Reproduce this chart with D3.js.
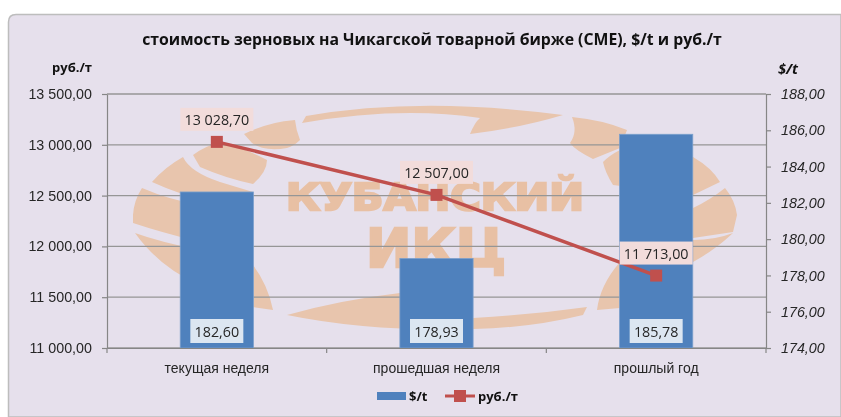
<!DOCTYPE html>
<html>
<head>
<meta charset="utf-8">
<script src="https://cdn.jsdelivr.net/npm/d3@7"></script>
<style>
  html, body { margin: 0; padding: 0; background: #fff; }
  svg { display: block; font-family: "Open Sans", sans-serif; filter: blur(0.35px); }
  text { fill: #262626; }
</style>
</head>
<body>
<svg id="chart" width="841" height="417"></svg>
<script>
let categories = ["текущая неделя", "прошедшая неделя", "прошлый год"]
let usd_values = [182.60, 178.93, 185.78]
let rub_values = [13028.70, 12507.00, 11713.00]
let rub_ticks = [11000, 11500, 12000, 12500, 13000, 13500]
let usd_ticks = [174, 176, 178, 180, 182, 184, 186, 188]

let title_text = "стоимость зерновых на Чикагской товарной бирже (CME), $/t и руб./т"

// watermark shapes behind the plot, traced by hand
let logo_shapes = [
  "M244,134 Q268,122 295,120 Q296,130 300,140 Q294,146 287,148 Q265,152 252,143 Z",
  "M193,155 Q205,146 220,142 Q245,148 267,160 Q267,172 253,184 Q225,178 200,167 Z",
  "M152,182 Q165,167 183,157 Q190,172 220,182 L253,192 L220,205 Q180,195 152,182 Z",
  "M133,215 Q134,200 142,188 Q170,200 200,205 L200,242 Q160,232 133,223 Z",
  "M135,233 Q160,242 200,250 L253,265 Q268,285 273,310 L252,307 Q235,290 200,285 Q160,268 135,233 Z",
  "M287,315 Q340,300 400,293 L473,318 Q530,315 587,307 L583,315 Q530,328 473,329 Q370,332 287,315 Z",
  "M302,123 L306,116 Q420,96 563,115 Q520,128 470,134 Q475,122 480,118 Q400,106 302,123 Z",
  "M572,117 Q603,120 627,130 L620,148 L593,159 Q575,150 570,143 Q578,132 572,117 Z",
  "M603,162 Q610,155 620,150 L693,157 Q712,168 720,182 L693,195 L613,185 Q605,172 603,162 Z",
  "M725,188 Q735,200 737,215 L733,232 L693,238 L693,208 Q710,200 725,188 Z",
  "M733,233 Q715,250 693,262 L620,308 L597,310 Q600,285 620,262 L693,240 Q715,240 733,233 Z"
]

let svg = d3.select("#chart")
let plot = { left: 107, right: 766, top: 94, bottom: 348 }

let num_format = d3.formatLocale({ decimal: ",", thousands: " ", grouping: [3] }).format(",.2f")

let x = d3.scaleBand().domain(categories).range([plot.left, plot.right]).paddingInner(2 / 3).paddingOuter(1 / 3)
let y_rub = d3.scaleLinear().domain([11000, 13500]).range([plot.bottom, plot.top])
let y_usd = d3.scaleLinear().domain([174, 188]).range([plot.bottom, plot.top])

// panel
svg.append("path")
  .attr("d", "M8.5,417 L8.5,22 Q8.5,14.5 16,14.5 L841,14.5 L841,417 Z")
  .attr("fill", "#e6e0ec")
  .attr("stroke", "#bdbdbd")
  .attr("stroke-width", 1.5)

// watermark
let logo = svg.append("g")
logo.selectAll("path").data(logo_shapes).enter().append("path")
  .attr("d", d => d)
  .attr("fill", "#e8c5ad")
logo.append("text").text("КУБАНСКИЙ")
  .attr("x", 286).attr("y", 210)
  .attr("textLength", 298).attr("lengthAdjust", "spacingAndGlyphs")
  .style("font-family", "DejaVu Sans").style("font-weight", "bold").style("font-size", "38px")
  .style("fill", "#e8c0a4").style("stroke", "#e8c0a4").style("stroke-width", 2.5)
logo.append("text").text("ИКЦ")
  .attr("x", 366).attr("y", 267)
  .attr("textLength", 140).attr("lengthAdjust", "spacingAndGlyphs")
  .style("font-family", "DejaVu Sans").style("font-weight", "bold").style("font-size", "53px")
  .style("fill", "#e8c0a4").style("stroke", "#e8c0a4").style("stroke-width", 2.5)

// gridlines
svg.append("g").selectAll("line").data(rub_ticks).enter().append("line")
  .attr("x1", plot.left).attr("x2", plot.right)
  .attr("y1", d => y_rub(d)).attr("y2", d => y_rub(d))
  .attr("stroke", "#969696")
  .attr("stroke-width", 1.3)

// bars
svg.append("g").selectAll("rect").data(categories).enter().append("rect")
  .attr("x", d => x(d))
  .attr("width", x.bandwidth())
  .attr("y", (d, i) => y_usd(usd_values[i]))
  .attr("height", (d, i) => plot.bottom - y_usd(usd_values[i]))
  .attr("fill", "#4f81bd")
  .attr("stroke", "#7a9fcc")
  .attr("stroke-width", 0.8)

// axes
function style_axis(g, italic) {
  g.select(".domain").attr("stroke", "#868686").attr("stroke-width", 1.2)
  g.selectAll(".tick line").attr("stroke", "#868686").attr("stroke-width", 1.2)
  g.selectAll(".tick text")
    .style("font-size", "14.3px")
    .style("font-style", italic ? "italic" : "normal")
    .style("fill", "#262626")
}

svg.append("g")
  .attr("transform", `translate(${plot.left},0)`)
  .call(d3.axisLeft(y_rub).tickValues(rub_ticks).tickSize(5).tickPadding(10).tickSizeOuter(0).tickFormat(num_format))
  .call(g => style_axis(g, false))

svg.append("g")
  .attr("transform", `translate(${plot.right},0)`)
  .call(d3.axisRight(y_usd).tickValues(usd_ticks).tickSize(5).tickPadding(10).tickSizeOuter(0).tickFormat(num_format))
  .call(g => style_axis(g, true))

let bottom_axis = svg.append("g")
  .attr("transform", `translate(0,${plot.bottom})`)
  .call(d3.axisBottom(x).tickSize(0).tickPadding(15))
  .call(g => style_axis(g, false))
bottom_axis.selectAll(".tick text").style("font-size", "14px")

// category dividers on the bottom axis
bottom_axis.selectAll(".divider").data(d3.range(categories.length + 1)).enter().append("line")
  .attr("class", "divider")
  .attr("x1", d => plot.left + d * x.step()).attr("x2", d => plot.left + d * x.step())
  .attr("y1", 0).attr("y2", 5)
  .attr("stroke", "#868686").attr("stroke-width", 1.2)

// rub line
let line = d3.line().x((d, i) => x(categories[i]) + x.bandwidth() / 2).y(d => y_rub(d))
svg.append("path").datum(rub_values)
  .attr("d", line)
  .attr("fill", "none")
  .attr("stroke", "#c0504d")
  .attr("stroke-width", 3.5)

svg.append("g").selectAll("rect").data(rub_values).enter().append("rect")
  .attr("x", (d, i) => x(categories[i]) + x.bandwidth() / 2 - 6)
  .attr("y", d => y_rub(d) - 6)
  .attr("width", 12).attr("height", 12)
  .attr("fill", "#c0504d")

// value labels
function value_label(cx, cy, str, w, h, bg) {
  svg.append("rect")
    .attr("x", cx - w / 2).attr("y", cy - h / 2)
    .attr("width", w).attr("height", h)
    .attr("fill", bg)
  svg.append("text").text(str)
    .attr("x", cx).attr("y", cy)
    .attr("text-anchor", "middle").attr("dominant-baseline", "central")
    .style("font-size", "14.3px")
}

categories.forEach((c, i) => {
  let cx = x(c) + x.bandwidth() / 2
  value_label(cx, y_rub(rub_values[i]) - 22.5, num_format(rub_values[i]), 73, 23, "#f2dcdb")
  value_label(cx, 331, num_format(usd_values[i]), 53, 24, "#dce6f1")
})

// titles
svg.append("text").text(title_text)
  .attr("x", 432).attr("y", 39)
  .attr("text-anchor", "middle").attr("dominant-baseline", "central")
  .style("font-size", "15.8px").style("font-weight", "bold").style("fill", "#111")

svg.append("text").text("руб./т")
  .attr("x", 92).attr("y", 67)
  .attr("text-anchor", "end").attr("dominant-baseline", "central")
  .style("font-size", "13px").style("font-weight", "bold").style("fill", "#111")

svg.append("text").text("$/t")
  .attr("x", 778).attr("y", 68)
  .attr("dominant-baseline", "central")
  .style("font-size", "14.5px").style("font-weight", "bold").style("font-style", "italic").style("fill", "#111")

// legend
svg.append("rect").attr("x", 377).attr("y", 392).attr("width", 29).attr("height", 8).attr("fill", "#4f81bd")
svg.append("text").text("$/t")
  .attr("x", 409).attr("y", 396).attr("dominant-baseline", "central")
  .style("font-size", "13px").style("font-weight", "bold").style("fill", "#111")
svg.append("line").attr("x1", 445).attr("x2", 475).attr("y1", 396).attr("y2", 396)
  .attr("stroke", "#c0504d").attr("stroke-width", 3)
svg.append("rect").attr("x", 454).attr("y", 390).attr("width", 12).attr("height", 12).attr("fill", "#c0504d")
svg.append("text").text("руб./т")
  .attr("x", 478).attr("y", 396).attr("dominant-baseline", "central")
  .style("font-size", "13px").style("font-weight", "bold").style("fill", "#111")
</script>
</body>
</html>
